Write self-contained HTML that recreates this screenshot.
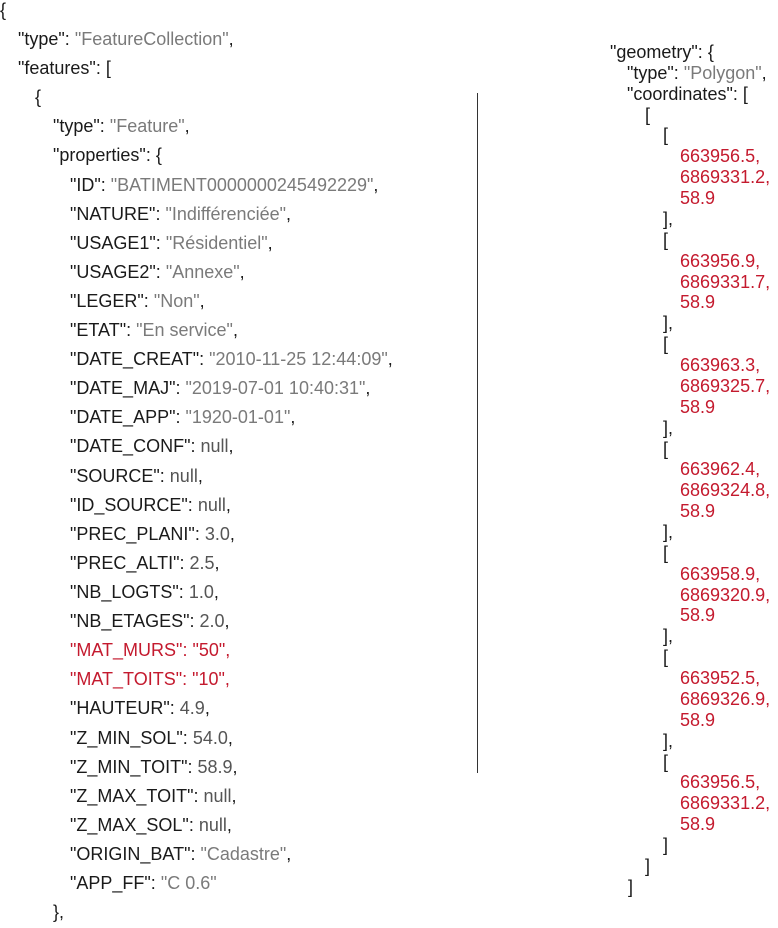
<!DOCTYPE html>
<html><head><meta charset="utf-8"><style>
body{margin:0;width:778px;height:928px;background:#fff;position:relative;overflow:hidden;font-family:"Liberation Sans",sans-serif;font-size:18px;color:#1a1a1a}
.l{position:absolute;line-height:22px;white-space:pre}
.s{color:#7a7a7a}.n{color:#555}.r{color:#c41a2e}
.vl{position:absolute;left:477px;top:93px;width:1px;height:680px;background:#333}
</style></head><body>
<div class="vl"></div>
<div class="l" style="left:0;top:-1px">{</div>
<div class="l" style="left:18px;top:28px">"type": <span class="s">"FeatureCollection"</span>,</div>
<div class="l" style="left:18px;top:57px">"features": [</div>
<div class="l" style="left:35px;top:86px">{</div>
<div class="l" style="left:53px;top:115px">"type": <span class="s">"Feature"</span>,</div>
<div class="l" style="left:53px;top:144px">"properties": {</div>
<div class="l" style="left:70px;top:174px">"ID": <span class="s">"BATIMENT0000000245492229"</span>,</div>
<div class="l" style="left:70px;top:203px">"NATURE": <span class="s">"Indifférenciée"</span>,</div>
<div class="l" style="left:70px;top:232px">"USAGE1": <span class="s">"Résidentiel"</span>,</div>
<div class="l" style="left:70px;top:261px">"USAGE2": <span class="s">"Annexe"</span>,</div>
<div class="l" style="left:70px;top:290px">"LEGER": <span class="s">"Non"</span>,</div>
<div class="l" style="left:70px;top:319px">"ETAT": <span class="s">"En service"</span>,</div>
<div class="l" style="left:70px;top:348px">"DATE_CREAT": <span class="s">"2010-11-25 12:44:09"</span>,</div>
<div class="l" style="left:70px;top:377px">"DATE_MAJ": <span class="s">"2019-07-01 10:40:31"</span>,</div>
<div class="l" style="left:70px;top:406px">"DATE_APP": <span class="s">"1920-01-01"</span>,</div>
<div class="l" style="left:70px;top:435px">"DATE_CONF": <span class="n">null</span>,</div>
<div class="l" style="left:70px;top:465px">"SOURCE": <span class="n">null</span>,</div>
<div class="l" style="left:70px;top:494px">"ID_SOURCE": <span class="n">null</span>,</div>
<div class="l" style="left:70px;top:523px">"PREC_PLANI": <span class="n">3.0</span>,</div>
<div class="l" style="left:70px;top:552px">"PREC_ALTI": <span class="n">2.5</span>,</div>
<div class="l" style="left:70px;top:581px">"NB_LOGTS": <span class="n">1.0</span>,</div>
<div class="l" style="left:70px;top:610px">"NB_ETAGES": <span class="n">2.0</span>,</div>
<div class="l r" style="left:70px;top:639px">"MAT_MURS": "50",</div>
<div class="l r" style="left:70px;top:668px">"MAT_TOITS": "10",</div>
<div class="l" style="left:70px;top:697px">"HAUTEUR": <span class="n">4.9</span>,</div>
<div class="l" style="left:70px;top:727px">"Z_MIN_SOL": <span class="n">54.0</span>,</div>
<div class="l" style="left:70px;top:756px">"Z_MIN_TOIT": <span class="n">58.9</span>,</div>
<div class="l" style="left:70px;top:785px">"Z_MAX_TOIT": <span class="n">null</span>,</div>
<div class="l" style="left:70px;top:814px">"Z_MAX_SOL": <span class="n">null</span>,</div>
<div class="l" style="left:70px;top:843px">"ORIGIN_BAT": <span class="s">"Cadastre"</span>,</div>
<div class="l" style="left:70px;top:872px">"APP_FF": <span class="s">"C 0.6"</span></div>
<div class="l" style="left:53px;top:901px">},</div>

<div class="l" style="left:610px;top:41px">"geometry": {</div>
<div class="l" style="left:627px;top:62px">"type": <span class="s">"Polygon"</span>,</div>
<div class="l" style="left:627px;top:83px">"coordinates": [</div>
<div class="l" style="left:645px;top:104px">[</div>

<div class="l" style="left:663px;top:124px">[</div>
<div class="l r" style="left:680px;top:145px">663956.5,</div>
<div class="l r" style="left:680px;top:166px">6869331.2,</div>
<div class="l r" style="left:680px;top:187px">58.9</div>
<div class="l" style="left:663px;top:208px">],</div>

<div class="l" style="left:663px;top:229px">[</div>
<div class="l r" style="left:680px;top:250px">663956.9,</div>
<div class="l r" style="left:680px;top:271px">6869331.7,</div>
<div class="l r" style="left:680px;top:291px">58.9</div>
<div class="l" style="left:663px;top:312px">],</div>

<div class="l" style="left:663px;top:333px">[</div>
<div class="l r" style="left:680px;top:354px">663963.3,</div>
<div class="l r" style="left:680px;top:375px">6869325.7,</div>
<div class="l r" style="left:680px;top:396px">58.9</div>
<div class="l" style="left:663px;top:417px">],</div>

<div class="l" style="left:663px;top:438px">[</div>
<div class="l r" style="left:680px;top:458px">663962.4,</div>
<div class="l r" style="left:680px;top:479px">6869324.8,</div>
<div class="l r" style="left:680px;top:500px">58.9</div>
<div class="l" style="left:663px;top:521px">],</div>

<div class="l" style="left:663px;top:542px">[</div>
<div class="l r" style="left:680px;top:563px">663958.9,</div>
<div class="l r" style="left:680px;top:584px">6869320.9,</div>
<div class="l r" style="left:680px;top:604px">58.9</div>
<div class="l" style="left:663px;top:625px">],</div>

<div class="l" style="left:663px;top:646px">[</div>
<div class="l r" style="left:680px;top:667px">663952.5,</div>
<div class="l r" style="left:680px;top:688px">6869326.9,</div>
<div class="l r" style="left:680px;top:709px">58.9</div>
<div class="l" style="left:663px;top:730px">],</div>

<div class="l" style="left:663px;top:751px">[</div>
<div class="l r" style="left:680px;top:771px">663956.5,</div>
<div class="l r" style="left:680px;top:792px">6869331.2,</div>
<div class="l r" style="left:680px;top:813px">58.9</div>
<div class="l" style="left:663px;top:834px">]</div>

<div class="l" style="left:645px;top:855px">]</div>
<div class="l" style="left:628px;top:876px">]</div>
</body></html>
